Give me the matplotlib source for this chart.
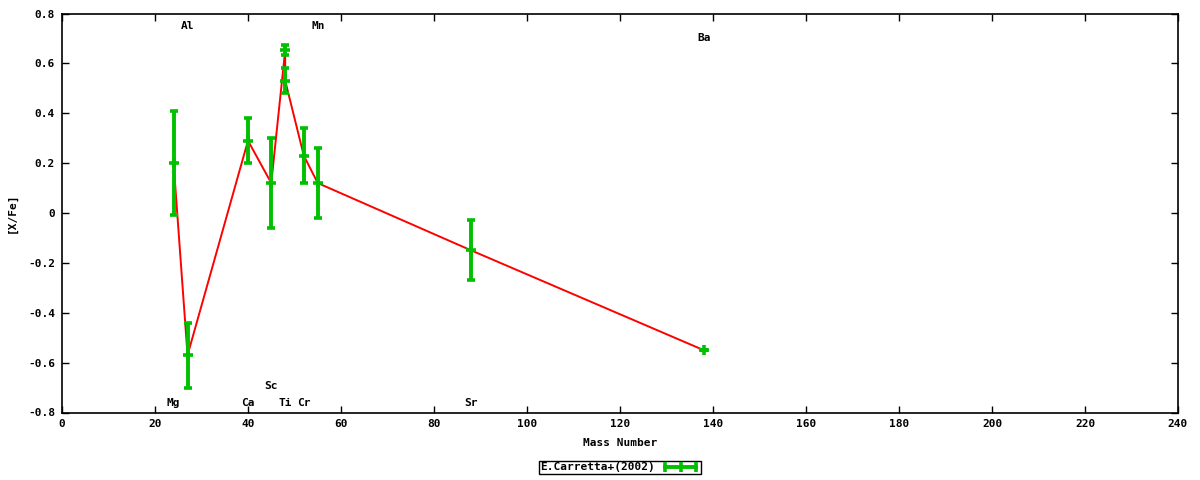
import matplotlib.pyplot as plt
from matplotlib.lines import Line2D

# data
mass = [24, 27, 40, 45, 48, 48, 52, 55, 88, 138]
xfe = [0.20, -0.57, 0.29, 0.12, 0.653, 0.531, 0.23, 0.12, -0.15, -0.55]
err = [0.21, 0.13, 0.09, 0.18, 0.02, 0.05, 0.11, 0.14, 0.12, 0.0]

labels = ["Mg", "Al", "Ca", "Sc", "Ti", "Cr", "Mn", "Sr", "Ba"]
label_x = [24, 27, 40, 45, 48, 52, 55, 88, 138]
label_y = [-0.76, 0.75, -0.76, -0.695, -0.76, -0.76, 0.75, -0.76, 0.70]

xticks = list(range(0, 241, 20))
yticks = [-0.8, -0.6, -0.4, -0.2, 0, 0.2, 0.4, 0.6, 0.8]
ytick_labels = ["-0.8", "-0.6", "-0.4", "-0.2", "0", "0.2", "0.4", "0.6", "0.8"]

green = "#00c000"
font = {"family": "DejaVu Sans Mono", "weight": "bold", "size": 8}

fig = plt.figure(figsize=(12, 4.8), dpi=100)
ax = fig.add_axes([62 / 1200, 1 - 412.5 / 480, 1116 / 1200, 399 / 480])

ax.plot(mass, xfe, color="red", lw=1.4, zorder=2)
ax.errorbar(mass, xfe, yerr=err, fmt="+", color=green, ecolor=green,
            elinewidth=2.8, capsize=3, capthick=2.8, ms=7, mew=2.6, zorder=3)

for name, lx, ly in zip(labels, label_x, label_y):
    ax.text(lx, ly, name, ha="center", va="center", **font)

ax.set_xlim(0, 240)
ax.set_ylim(-0.8, 0.8)
ax.set_xticks(xticks)
ax.set_xticklabels([str(t) for t in xticks], **font)
ax.set_yticks(yticks)
ax.set_yticklabels(ytick_labels, **font)
ax.tick_params(direction="in", length=5, width=1, top=True, right=True, pad=5)
for sp in ax.spines.values():
    sp.set_linewidth(1.2)

ax.set_xlabel("Mass Number", labelpad=6, **font)
ax.set_ylabel("[X/Fe]", labelpad=8, **font)

# legend with a horizontal errorbar-style sample
handle = Line2D([0], [0], color=green, lw=2.8, marker="|", ms=7, mew=2.6)
leg = fig.legend([handle], ["E.Carretta+(2002)"], loc="center",
                 bbox_to_anchor=(620 / 1200, 1 - 467.5 / 480), numpoints=3,
                 markerfirst=False, fancybox=False, edgecolor="black",
                 framealpha=1, borderpad=0.15, handlelength=3.4,
                 handletextpad=0.6, borderaxespad=0, prop=font)
leg.get_frame().set_linewidth(1)

fig.savefig("out.png", dpi=100)
